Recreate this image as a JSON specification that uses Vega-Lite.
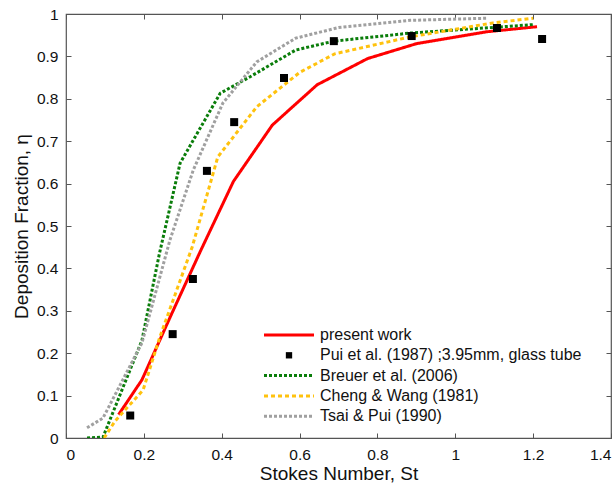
{
  "$schema": "https://vega.github.io/schema/vega-lite/v6.json",
  "width": 545,
  "height": 424,
  "autosize": "none",
  "padding": {"left": 66, "top": 14, "right": 5, "bottom": 48},
  "background": "white",
  "config": {
    "font": "Liberation Sans",
    "view": {"stroke": "#555", "strokeWidth": 1.2},
    "axis": {"grid": false, "domain": false, "tickColor": "#555", "tickSize": -5, "labelFontSize": 15.5, "labelColor": "#111", "titleFontSize": 19, "titleFontWeight": "normal", "titleColor": "#111", "format": "~g"},
    "legend": {"padding": 0}
  },
  "data": {"values": [
    {"s": "present work", "x": 0.135, "y": 0.055},
    {"s": "present work", "x": 0.195, "y": 0.137},
    {"s": "present work", "x": 0.27, "y": 0.29},
    {"s": "present work", "x": 0.345, "y": 0.44},
    {"s": "present work", "x": 0.43, "y": 0.605},
    {"s": "present work", "x": 0.53, "y": 0.738},
    {"s": "present work", "x": 0.645, "y": 0.833},
    {"s": "present work", "x": 0.775, "y": 0.895},
    {"s": "present work", "x": 0.9, "y": 0.93},
    {"s": "present work", "x": 1.08, "y": 0.958},
    {"s": "present work", "x": 1.21, "y": 0.97},
    {"s": "Pui et al. (1987) ;3.95mm, glass tube", "x": 0.165, "y": 0.053},
    {"s": "Pui et al. (1987) ;3.95mm, glass tube", "x": 0.274, "y": 0.245},
    {"s": "Pui et al. (1987) ;3.95mm, glass tube", "x": 0.326, "y": 0.375},
    {"s": "Pui et al. (1987) ;3.95mm, glass tube", "x": 0.362, "y": 0.63},
    {"s": "Pui et al. (1987) ;3.95mm, glass tube", "x": 0.432, "y": 0.745},
    {"s": "Pui et al. (1987) ;3.95mm, glass tube", "x": 0.56, "y": 0.849},
    {"s": "Pui et al. (1987) ;3.95mm, glass tube", "x": 0.688, "y": 0.936},
    {"s": "Pui et al. (1987) ;3.95mm, glass tube", "x": 0.888, "y": 0.948},
    {"s": "Pui et al. (1987) ;3.95mm, glass tube", "x": 1.107, "y": 0.967},
    {"s": "Pui et al. (1987) ;3.95mm, glass tube", "x": 1.223, "y": 0.941},
    {"s": "Breuer et al. (2006)", "x": 0.054, "y": 0.0},
    {"s": "Breuer et al. (2006)", "x": 0.095, "y": 0.002},
    {"s": "Breuer et al. (2006)", "x": 0.195, "y": 0.23},
    {"s": "Breuer et al. (2006)", "x": 0.24, "y": 0.435},
    {"s": "Breuer et al. (2006)", "x": 0.293, "y": 0.648},
    {"s": "Breuer et al. (2006)", "x": 0.396, "y": 0.813},
    {"s": "Breuer et al. (2006)", "x": 0.473, "y": 0.852},
    {"s": "Breuer et al. (2006)", "x": 0.59, "y": 0.915},
    {"s": "Breuer et al. (2006)", "x": 0.688, "y": 0.936},
    {"s": "Breuer et al. (2006)", "x": 0.884, "y": 0.955},
    {"s": "Breuer et al. (2006)", "x": 1.107, "y": 0.969},
    {"s": "Breuer et al. (2006)", "x": 1.2, "y": 0.975},
    {"s": "Cheng & Wang (1981)", "x": 0.098, "y": 0.0},
    {"s": "Cheng & Wang (1981)", "x": 0.126, "y": 0.04},
    {"s": "Cheng & Wang (1981)", "x": 0.198, "y": 0.113},
    {"s": "Cheng & Wang (1981)", "x": 0.241, "y": 0.238},
    {"s": "Cheng & Wang (1981)", "x": 0.324, "y": 0.45},
    {"s": "Cheng & Wang (1981)", "x": 0.39, "y": 0.663},
    {"s": "Cheng & Wang (1981)", "x": 0.49, "y": 0.781},
    {"s": "Cheng & Wang (1981)", "x": 0.6, "y": 0.862},
    {"s": "Cheng & Wang (1981)", "x": 0.69, "y": 0.906},
    {"s": "Cheng & Wang (1981)", "x": 0.884, "y": 0.946},
    {"s": "Cheng & Wang (1981)", "x": 1.097, "y": 0.979},
    {"s": "Cheng & Wang (1981)", "x": 1.2, "y": 0.99},
    {"s": "Tsai & Pui (1990)", "x": 0.054, "y": 0.024},
    {"s": "Tsai & Pui (1990)", "x": 0.095, "y": 0.047},
    {"s": "Tsai & Pui (1990)", "x": 0.195, "y": 0.224},
    {"s": "Tsai & Pui (1990)", "x": 0.267, "y": 0.467},
    {"s": "Tsai & Pui (1990)", "x": 0.327, "y": 0.632},
    {"s": "Tsai & Pui (1990)", "x": 0.403, "y": 0.79},
    {"s": "Tsai & Pui (1990)", "x": 0.49, "y": 0.887},
    {"s": "Tsai & Pui (1990)", "x": 0.59, "y": 0.943},
    {"s": "Tsai & Pui (1990)", "x": 0.7, "y": 0.968},
    {"s": "Tsai & Pui (1990)", "x": 0.884, "y": 0.985},
    {"s": "Tsai & Pui (1990)", "x": 1.08, "y": 0.99}
  ]},
  "resolve": {"axis": {"x": "independent", "y": "independent"}},
  "layer": [
    {
      "transform": [{"filter": "datum.s !== 'Pui et al. (1987) ;3.95mm, glass tube'"}],
      "mark": {"type": "line", "strokeWidth": 3, "clip": true},
      "encoding": {
        "x": {"field": "x", "type": "quantitative", "scale": {"domain": [0, 1.4]}, "axis": {"title": "Stokes Number, St", "values": [0, 0.2, 0.4, 0.6, 0.8, 1, 1.2, 1.4], "labelPadding": 14, "titlePadding": 2}},
        "y": {"field": "y", "type": "quantitative", "scale": {"domain": [0, 1]}, "axis": {"title": "Deposition Fraction,  η", "values": [0, 0.1, 0.2, 0.3, 0.4, 0.5, 0.6, 0.7, 0.8, 0.9, 1], "labelPadding": 13, "titlePadding": 5}},
        "color": {"field": "s", "type": "nominal", "scale": {"domain": ["present work", "Pui et al. (1987) ;3.95mm, glass tube", "Breuer et al. (2006)", "Cheng & Wang (1981)", "Tsai & Pui (1990)"], "range": ["#ff0000", "#000000", "#0a7d0a", "#ffc20e", "#a0a0a0"]},
          "legend": {"title": null, "orient": "none", "legendX": 215, "legendY": 313, "labelFontSize": 16, "labelColor": "#111", "labelLimit": 400, "symbolType": "M-2.5,0H2.5", "symbolSize": 400, "symbolStrokeWidth": 3, "rowPadding": 4.3, "labelOffset": 23,
            "encoding": {"symbols": {
              "shape": {"value": {"expr": "datum.value === 'Pui et al. (1987) ;3.95mm, glass tube' ? 'square' : 'M-2.5,0H2.5'"}},
              "size": {"value": {"expr": "datum.value === 'Pui et al. (1987) ;3.95mm, glass tube' ? 40 : 400"}},
              "fill": {"value": {"expr": "datum.value === 'Pui et al. (1987) ;3.95mm, glass tube' ? 'black' : 'transparent'"}},
              "strokeWidth": {"value": {"expr": "datum.value === 'Pui et al. (1987) ;3.95mm, glass tube' ? 0 : 3"}}
            }}}},
        "strokeDash": {"field": "s", "type": "nominal", "scale": {"domain": ["present work", "Pui et al. (1987) ;3.95mm, glass tube", "Breuer et al. (2006)", "Cheng & Wang (1981)", "Tsai & Pui (1990)"], "range": [[1, 0], [1, 0], [3, 2], [4, 3], [3, 2]]}, "legend": null}
      }
    },
    {
      "transform": [{"filter": "datum.s === 'Pui et al. (1987) ;3.95mm, glass tube'"}],
      "mark": {"type": "square", "filled": true, "size": 64, "opacity": 1, "color": "#000000"},
      "encoding": {
        "x": {"field": "x", "type": "quantitative", "axis": null},
        "y": {"field": "y", "type": "quantitative", "axis": null}
      }
    },
    {
      "mark": {"type": "point", "opacity": 0},
      "encoding": {
        "x": {"field": "x", "type": "quantitative", "axis": {"orient": "top", "labels": false, "title": null, "values": [0, 0.2, 0.4, 0.6, 0.8, 1, 1.2, 1.4]}},
        "y": {"field": "y", "type": "quantitative", "axis": {"orient": "right", "labels": false, "title": null, "values": [0, 0.1, 0.2, 0.3, 0.4, 0.5, 0.6, 0.7, 0.8, 0.9, 1]}}
      }
    }
  ]
}
